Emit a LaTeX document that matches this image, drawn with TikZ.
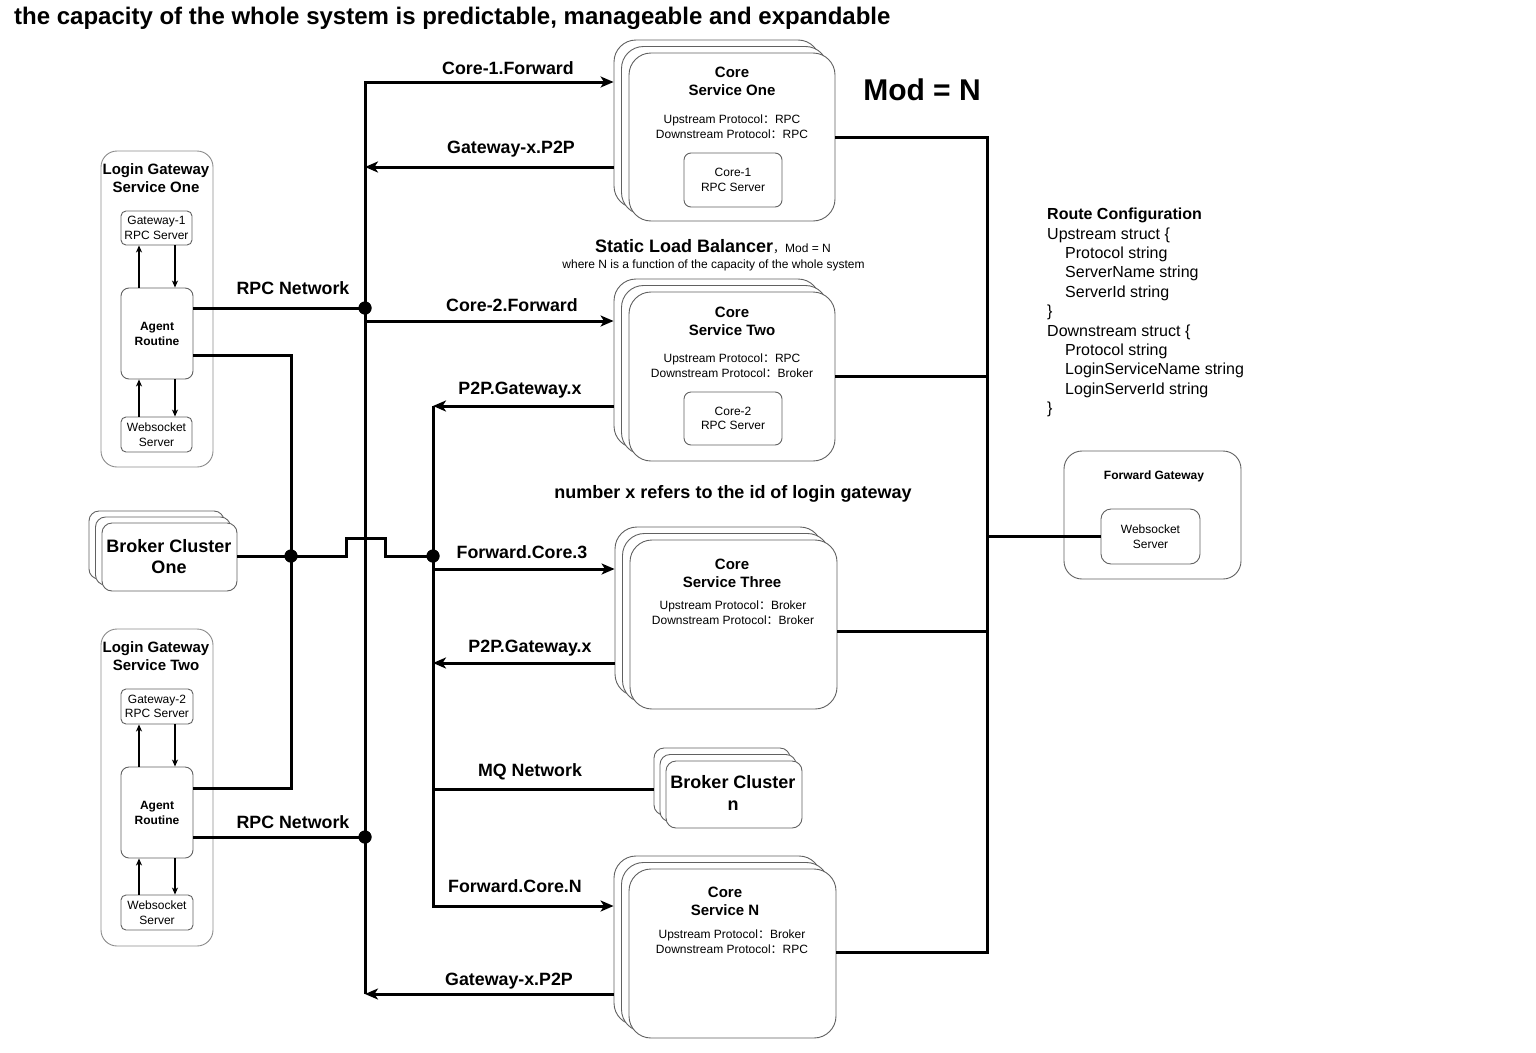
\documentclass[tikz,border=0pt]{standalone}
\usepackage{fontspec}
\setmainfont{Liberation Sans}
\newfontfamily\cjk{Noto Sans CJK SC}
\usetikzlibrary{arrows.meta}
\newcommand\stk[8]{%
  \node[box=#8, minimum width=#4pt, minimum height=#5pt] (#1c) at (#2-2*#6, #3-2*#7) {};
  \node[box=#8, minimum width=#4pt, minimum height=#5pt] (#1b) at (#2-#6, #3-#7) {};
  \node[box=#8, minimum width=#4pt, minimum height=#5pt] (#1) at (#2, #3) {};}
\newcommand\cc{{\cjk ：}}
\tikzset{
  box/.style={draw=black!62, line width=0.9pt, fill=white, rounded corners=#1, inner sep=0pt},
  box/.default=6pt,
  bus/.style={line width=3pt, line join=miter},
  tip/.style={-{Stealth[length=13pt,width=11pt,inset=3.5pt]}},
  thinarr/.style={line width=1.1pt, -{Stealth[length=7pt,width=6pt,inset=2pt]}},
  dot/.style={circle, fill=black, minimum size=13pt, inner sep=0pt},
  lbl/.style={font=\fontsize{17.8}{21}\selectfont\bfseries, inner sep=0pt},
  ttl/.style={font=\fontsize{15}{18}\selectfont\bfseries, align=center, inner sep=0pt},
  sm/.style={font=\fontsize{12}{15}\selectfont, align=center, inner sep=0pt},
  smr/.style={font=\fontsize{12}{14.5}\selectfont, align=center, inner sep=0pt},
  smb/.style={font=\fontsize{12}{15}\selectfont\bfseries, align=center, inner sep=0pt},
  bkt/.style={font=\fontsize{18}{21.5}\selectfont\bfseries, align=center, inner sep=0pt},
}
\begin{document}
\begin{tikzpicture}[x=1pt,y=-1pt]
\useasboundingbox[fill=white] (0,0) rectangle (1536,1052);

% title
\node[anchor=west, inner sep=0pt, font=\fontsize{24}{28}\selectfont\bfseries] (title) at (14,18)
  {the capacity of the whole system is predictable, manageable and expandable};

% login gateway one
\node[box=16pt, draw=black!45, minimum width=112pt, minimum height=316pt] (lg1) at (157,309) {};
\node[ttl] (lg1t) at (156,178) {Login Gateway\\Service One};
\node[box=5pt, minimum width=71pt, minimum height=34pt, smr] (gw1) at (156.5,228) {Gateway-1\\RPC Server};
\node[box=8pt, minimum width=72pt, minimum height=91pt, smb] (ag1) at (157,333.5) {Agent\\Routine};
\node[box=5pt, minimum width=71pt, minimum height=35pt, smr] (ws1) at (156.5,434.5) {Websocket\\Server};
\draw[thinarr] ([xshift=-18pt]ag1.north) -- ([xshift=-18pt]ag1.north |- gw1.south);
\draw[thinarr] ([xshift=18pt]ag1.north |- gw1.south) -- ([xshift=18pt]ag1.north);
\draw[thinarr] ([xshift=-18pt]ag1.south |- ws1.north) -- ([xshift=-18pt]ag1.south);
\draw[thinarr] ([xshift=18pt]ag1.south) -- ([xshift=18pt]ag1.south |- ws1.north);

% login gateway two
\node[box=16pt, draw=black!45, minimum width=112pt, minimum height=317pt] (lg2) at (157,787.5) {};
\node[ttl] (lg2t) at (156,656) {Login Gateway\\Service Two};
\node[box=5pt, minimum width=72pt, minimum height=35pt, smr] (gw2) at (157,706.5) {Gateway-2\\RPC Server};
\node[box=8pt, minimum width=72pt, minimum height=91pt, smb] (ag2) at (157,812.5) {Agent\\Routine};
\node[box=5pt, minimum width=72pt, minimum height=35pt, smr] (ws2) at (157,912.5) {Websocket\\Server};
\draw[thinarr] ([xshift=-18pt]ag2.north) -- ([xshift=-18pt]ag2.north |- gw2.south);
\draw[thinarr] ([xshift=18pt]ag2.north |- gw2.south) -- ([xshift=18pt]ag2.north);
\draw[thinarr] ([xshift=-18pt]ag2.south |- ws2.north) -- ([xshift=-18pt]ag2.south);
\draw[thinarr] ([xshift=18pt]ag2.south) -- ([xshift=18pt]ag2.south |- ws2.north);

% broker clusters
\stk{bk1}{169.5}{557}{135}{68}{6.5}{6}{10pt}
\node[bkt] (bk1t) at (169,556.5) {Broker Cluster\\One};
\stk{bkn}{734}{794.5}{136}{67}{6}{6.5}{10pt}
\node[bkt] (bknt) at (733,793) {Broker Cluster\\n};

% core services
\stk{c1}{732}{137}{206}{168}{7.5}{6.5}{22pt}
\node[ttl] (c1t) at (732,81) {Core\\Service One};
\node[sm] (c1p) at (732,126.5) {Upstream Protocol\cc RPC\\Downstream Protocol\cc RPC};
\node[box=7pt, minimum width=98pt, minimum height=54pt, smr] (rs1) at (733,180) {Core-1\\RPC Server};

\stk{c2}{732}{376.5}{206}{169}{7.5}{6.5}{22pt}
\node[ttl] (c2t) at (732,321) {Core\\Service Two};
\node[sm] (c2p) at (732,365.5) {Upstream Protocol\cc RPC\\Downstream Protocol\cc Broker};
\node[box=7pt, minimum width=98pt, minimum height=53pt, smr] (rs2) at (733,418.5) {Core-2\\RPC Server};

\stk{c3}{733.5}{624.5}{207}{169}{7.5}{6.5}{22pt}
\node[ttl] (c3t) at (732,573) {Core\\Service Three};
\node[sm] (c3p) at (733,613) {Upstream Protocol\cc Broker\\Downstream Protocol\cc Broker};

\stk{cN}{732.5}{953.5}{207}{169}{7.5}{6.5}{22pt}
\node[ttl] (cNt) at (725,901) {Core\\Service N};
\node[sm] (cNp) at (732,942) {Upstream Protocol\cc Broker\\Downstream Protocol\cc RPC};

% forward gateway
\node[box=18pt, minimum width=177pt, minimum height=128pt] (fg) at (1152.5,515) {};
\node[smb] (fgt) at (1154,476) {Forward Gateway};
\node[box=10pt, minimum width=99pt, minimum height=55pt, smr] (fws) at (1150.5,536.5) {Websocket\\Server};

% texts
\node[font=\fontsize{30}{35}\selectfont\bfseries, inner sep=0pt] (mod) at (922,90) {Mod = N};
\node[inner sep=0pt] (slb) at (713,247) {\fontsize{18}{21}\selectfont\bfseries Static Load Balancer{\fontsize{12}{14}\selectfont\mdseries{\cjk ，}Mod = N}};
\node[font=\fontsize{12}{14}\selectfont, inner sep=0pt] (slb2) at (713.5,265) {where N is a function of the capacity of the whole system};
\node[font=\fontsize{18}{21}\selectfont\bfseries, inner sep=0pt] (numx) at (733,494) {number x refers to the id of login gateway};
\node[anchor=north west, align=left, inner sep=0pt, font=\fontsize{16}{19.4}\selectfont] (route) at (1047,208)
  {\textbf{Route Configuration}\\Upstream struct \{\\\hspace*{18pt}Protocol string\\\hspace*{18pt}ServerName string\\\hspace*{18pt}ServerId string\\\}\\Downstream struct \{\\\hspace*{18pt}Protocol string\\\hspace*{18pt}LoginServiceName string\\\hspace*{18pt}LoginServerId string\\\}};

% connector labels
\node[lbl] (l1) at (293,288) {RPC Network};
\node[lbl] (l2) at (293,822) {RPC Network};
\node[lbl] (l3) at (508,68) {Core-1.Forward};
\node[lbl] (l4) at (511,149) {Gateway-x.P2P};
\node[lbl] (l5) at (512,305) {Core-2.Forward};
\node[lbl] (l6) at (520,390) {P2P.Gateway.x};
\node[lbl] (l7) at (522,552) {Forward.Core.3};
\node[lbl] (l8) at (530,648) {P2P.Gateway.x};
\node[lbl] (l9) at (530,772) {MQ Network};
\node[lbl] (l10) at (515,886) {Forward.Core.N};
\node[lbl] (l11) at (509,981) {Gateway-x.P2P};

% coordinates
\coordinate (aT) at (365,82);
\coordinate (aB) at (365,994);
\coordinate (g1) at (365,167);
\coordinate (f2) at (365,321);
\coordinate (bT) at (433,406);
\coordinate (bB) at (433,906);
\coordinate (f3) at (433,569);
\coordinate (p3) at (433,663);
\coordinate (mq) at (433,789);
\coordinate (k1) at (291,355);
\coordinate (k2) at (291,788);
\coordinate (h1) at (346,556);
\coordinate (h2) at (346,538);
\coordinate (h3) at (385,538);
\coordinate (h4) at (385,556);
\coordinate (r1) at (987,137);
\coordinate (r2) at (987,376);
\coordinate (r3) at (987,631);
\coordinate (rN) at (987,952);
\coordinate (rF) at (987,536);

% junction dots
\node[dot] (d1) at (365,308) {};
\node[dot] (d2) at (365,837) {};
\node[dot] (j1) at (291,556) {};
\node[dot] (d3) at (433,556) {};

% connectors
\draw[bus] (ag1.east |- d1) -- (d1.center);
\draw[bus] (ag2.east |- d2) -- (d2.center);
\draw[bus] (ag1.east |- k1) -- (k1) -- (k2) -- (ag2.east |- k2);
\draw[bus] (bk1.east |- h1) -- (h1) -- (h2) -- (h3) -- (h4) -- (d3.center);
\draw[bus,tip] (aB) -- (aT) -- (c1c.west |- aT);
\draw[bus,tip] (cNc.west |- aB) -- (aB);
\draw[bus,tip] (c1c.west |- g1) -- (g1);
\draw[bus,tip] (f2) -- (c2c.west |- f2);
\draw[bus,tip] (c2c.west |- bT) -- (bT);
\draw[bus,tip] (bT) -- (bB) -- (cNc.west |- bB);
\draw[bus,tip] (f3) -- (c3c.west |- f3);
\draw[bus,tip] (c3c.west |- p3) -- (p3);
\draw[bus] (mq) -- (bknc.west |- mq);
\draw[bus] (c1.east |- r1) -- (r1) -- (rN) -- (cN.east |- rN);
\draw[bus] (c2.east |- r2) -- (r2);
\draw[bus] (c3.east |- r3) -- (r3);
\draw[bus] (rF) -- (fws.west |- rF);
\fill (d1) circle (6.5pt) (d2) circle (6.5pt) (j1) circle (6.5pt) (d3) circle (6.5pt);
\end{tikzpicture}
\end{document}
